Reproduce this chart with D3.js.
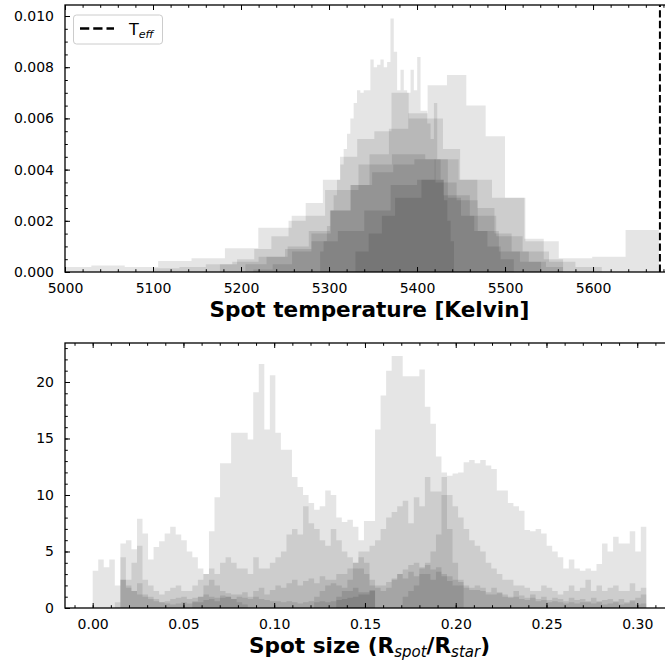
<!DOCTYPE html>
<html>
<head>
<meta charset="utf-8">
<script src="https://cdn.jsdelivr.net/npm/d3@7"></script>
<style>
  body { margin: 0; background: #fff; }
  text { font-family: "DejaVu Sans", sans-serif; }
</style>
</head>
<body>
<div id="chart"></div>
<script>
// ---- top panel: spot temperature posteriors (density, units of 1e-3) ----
var tempStart = [4992, 5214, 5290, 5176, 5205, 5330, 5100];
var tempWidth = [37.94, 22, 3.8, 19.5, 24, 15, 30];
var tempHist1 = [0.2, 0.25, 0.2, 0.43, 0.54, 0.93, 1.73, 2.2, 3.2, 4.2, 4.6, 4.4, 3.6, 2.9, 1.2, 0.54, 0.6, 1.64];
var tempHist2 = [0.1, 0.3, 0.8, 1.5, 2.4, 3.4, 4.6, 5.6, 6.2, 7.3, 7.7, 6.5, 5.3, 2.9, 1.3, 0.5];
var tempHist3 = [0.8, 1.2, 1.8, 2.4, 3.0, 3.6, 4.2, 4.8, 5.4, 6.0, 6.6, 7.1, 7.0, 7.1, 7.1, 8.3, 8.0, 8.1, 8.3, 8.0,
                 8.2, 9.9, 8.6, 7.1, 7.9, 7.1, 7.0, 7.9, 7.1, 8.4, 6.3, 6.3, 5.8, 5.2, 6.6, 4.4, 3.6, 2.8, 2.0, 1.2];
var tempHist4 = [0.3, 0.5, 0.9, 1.4, 2.0, 2.7, 3.6, 4.5, 5.2, 5.5, 7.0, 6.0, 6.0, 4.8, 3.6, 2.5, 1.5, 0.8, 0.4, 0.2];
var tempHist5 = [0.3, 0.6, 1.0, 1.6, 2.4, 3.4, 3.9, 4.2, 4.4, 3.5, 2.8, 1.6, 0.8, 0.4];
var tempHist6 = [0.8, 1.5, 2.2, 2.9, 2.9, 3.6, 4.4, 2.9, 2.2, 1.6, 1.0, 0.5];
var tempHist7 = [0.15, 0.2, 0.3, 0.4, 0.6, 0.9, 1.2, 1.6, 2.4, 3.4, 3.6, 3.0, 2.2, 1.4, 0.8, 0.4, 0.2];
var teff = 5676;
var tempTicks = [5000, 5100, 5200, 5300, 5400, 5500, 5600];
var tempDensTicks = [0, 0.002, 0.004, 0.006, 0.008, 0.010];

// ---- bottom panel: spot size posteriors (density) ----
var sizeBin = 0.00305;
var sizeStart = [0, 0.0549, 0.1342, 0.1708, 0.01525, 0.122, 0.01525, 0.0122];
var sizeHist1 = [3.3, 4.3, 3.6, 4.3, 2.0, 5.7, 6.0, 5.2, 7.9, 6.6, 4.3, 5.4, 5.9, 6.6, 7.2, 6.5, 6.0, 5.0, 4.5, 3.5,
                 3.0, 2.5, 2.0, 1.5, 1.0, 0.8, 0.5, 0.3];
var sizeHist2 = [0.5, 1.0, 2.0, 6.8, 9.8, 12.8, 12.8, 15.5, 15.5, 15.5, 14.9, 19.1, 21.6, 15.8, 20.6, 15.5, 14.0, 14.0,
                 11.6, 10.7, 10.0, 9.3, 8.7, 9.0, 10.4, 10.0, 8.0, 7.6, 7.8, 7.2, 6.0, 4.0, 2.0];
var sizeHist3 = [1.0, 1.5, 2.5, 3.5, 5.0, 7.7, 7.7, 15.8, 18.8, 21.0, 22.3, 22.3, 20.5, 20.5, 20.5, 21.1, 17.8, 16.3,
                 13.4, 10.0, 7.0, 4.0, 2.0];
var sizeHist4 = [1.0, 1.5, 2.0, 3.0, 4.0, 5.0, 6.5, 12.0, 11.7, 11.9, 12.0, 12.9, 13.1, 12.8, 13.1, 12.6, 12.3, 10.4,
                 10.4, 9.3, 9.0, 8.6, 6.9, 6.8, 7.0, 6.6, 5.5, 5.0, 4.5, 3.5, 4.3, 3.5, 3.3, 3.5, 3.3, 3.9, 5.7, 5.0,
                 6.3, 5.7, 5.7, 6.8, 5.0, 7.2];
var sizeHist5 = [4.5, 2.5, 4.0, 5.5, 2.5, 2.0, 1.5, 1.2, 1.5, 1.8, 2.0, 1.5, 1.5, 2.0, 2.5, 3.0, 3.5, 3.0, 4.0, 4.5,
                 4.0, 3.5, 3.5, 3.0, 4.5, 3.5, 3.5, 4.0, 4.5, 5.0, 6.5, 7.0, 6.5, 9.0, 7.5, 7.0, 6.0, 5.5, 7.0, 6.0,
                 5.0, 4.5, 4.0, 3.5, 3.0, 2.5];
var sizeHist6 = [1.0, 1.5, 2.0, 2.5, 3.0, 3.0, 3.5, 4.0, 4.5, 5.0, 5.5, 6.0, 7.0, 8.0, 8.5, 9.0, 9.5, 7.5, 9.8, 9.0,
                 11.6, 10.3, 10.3, 11.6, 10.0, 9.0, 8.0, 7.0, 6.0, 5.5, 5.0, 4.0, 3.5, 3.0, 2.5, 2.5, 2.0, 2.0, 1.8, 1.5,
                 1.5, 2.0, 1.8, 1.5, 1.2, 1.5, 2.0, 1.5, 1.8, 2.5, 1.5, 2.0, 1.5, 1.8, 2.0, 1.5, 1.5, 2.2, 1.5, 1.8];
var sizeHist7 = [2.5, 1.8, 1.5, 1.2, 1.0, 0.8, 0.6, 0.5, 0.6, 0.8, 0.9, 1.0, 0.8, 0.9, 1.0, 1.2, 1.0, 0.9, 1.1, 1.3,
                 1.2, 1.0, 0.9, 0.8, 1.0, 0.8, 0.7, 0.6, 0.6, 0.5, 0.6, 0.5, 0.4, 0.5, 0.6, 0.5, 0.6, 0.5, 0.6, 0.7,
                 0.8, 0.9, 1.0, 1.2, 1.4, 1.5, 1.8, 2.0, 2.3, 2.6, 3.0, 3.4, 3.8, 4.0, 3.6, 3.8, 3.4, 3.2, 3.0, 2.8,
                 2.5, 2.3, 2.0, 1.8, 1.6, 1.8, 1.4, 1.2, 1.3, 1.0, 0.9, 1.0, 0.8, 0.7, 0.9, 0.6, 0.7, 0.5, 0.6, 0.5,
                 0.4, 0.5, 0.4, 0.5, 0.6, 0.4, 0.5, 0.3, 0.4, 0.5, 0.3, 0.4, 0.6, 0.3, 0.4];
var sizeHist8 = [0.5, 2.5, 2.0, 1.5, 2.2, 1.2, 1.0, 0.8, 0.5, 0.4, 0.3, 0.4, 0.5, 0.4, 0.6, 0.5, 0.7, 0.8, 0.6, 0.9,
                 1.0, 0.8, 1.2, 1.4, 1.0, 1.5, 1.8, 1.2, 1.6, 2.0, 1.8, 2.2, 2.5, 2.0, 2.4, 2.6, 2.2, 2.8, 2.5, 2.2,
                 2.0, 1.8, 1.5, 1.8, 1.4, 1.2, 1.6, 2.0, 1.5, 1.8, 2.5, 3.0, 2.6, 3.2, 2.8, 3.5, 3.0, 2.5, 3.6, 2.8,
                 2.4, 2.0, 2.5, 1.8, 1.6, 2.0, 1.5, 1.2, 1.8, 1.4, 1.2, 1.0, 1.5, 1.1, 0.9, 1.2, 0.8, 1.0, 0.7, 0.9,
                 0.8, 0.6, 0.9, 0.7, 0.8, 0.5, 0.9, 0.6, 0.7, 0.8, 0.6, 0.8, 0.5, 0.7, 0.9, 1.2];
var sizeTicks = [0, 0.05, 0.10, 0.15, 0.20, 0.25, 0.30];
var sizeDensTicks = [0, 5, 10, 15, 20];

var width = 665, height = 664;
var left = 65, right = 674;

var svg = d3.select("#chart").append("svg")
    .attr("width", width)
    .attr("height", height);

// draws one histogram as a filled step outline
function drawHist(g, x, y, start, binWidth, values, k) {
    var pts = values.map(function(v, i) { return [start + i * binWidth, v * k]; });
    pts.push([start + values.length * binWidth, 0]);
    var area = d3.area()
        .curve(d3.curveStepAfter)
        .x(function(d) { return x(d[0]); })
        .y0(y(0))
        .y1(function(d) { return y(d[1]); });
    g.append("path")
        .attr("d", area(pts))
        .attr("fill", "#000")
        .attr("fill-opacity", 0.1);
}

// inward ticks on all four sides, labels only bottom/left
function drawFrame(x, y, top, bottom, xMajor, yMajor, xMinor, yMinor, xFmt, yFmt) {
    var ax = svg.append("g");
    ax.append("g").attr("transform", "translate(0," + bottom + ")")
        .call(d3.axisBottom(x).tickValues(xMajor).tickFormat(xFmt).tickSizeInner(-5).tickSizeOuter(0).tickPadding(11));
    ax.append("g").attr("transform", "translate(0," + bottom + ")")
        .call(d3.axisBottom(x).tickValues(xMinor).tickFormat("").tickSizeInner(-2.8).tickSizeOuter(0));
    ax.append("g").attr("transform", "translate(0," + top + ")")
        .call(d3.axisTop(x).tickValues(xMajor).tickFormat("").tickSizeInner(-5).tickSizeOuter(0));
    ax.append("g").attr("transform", "translate(0," + top + ")")
        .call(d3.axisTop(x).tickValues(xMinor).tickFormat("").tickSizeInner(-2.8).tickSizeOuter(0));
    ax.append("g").attr("transform", "translate(" + left + ",0)")
        .call(d3.axisLeft(y).tickValues(yMajor).tickFormat(yFmt).tickSizeInner(-5).tickSizeOuter(0).tickPadding(11));
    ax.append("g").attr("transform", "translate(" + left + ",0)")
        .call(d3.axisLeft(y).tickValues(yMinor).tickFormat("").tickSizeInner(-2.8).tickSizeOuter(0));
    ax.append("g").attr("transform", "translate(" + right + ",0)")
        .call(d3.axisRight(y).tickValues(yMajor).tickFormat("").tickSizeInner(-5).tickSizeOuter(0));
    ax.append("g").attr("transform", "translate(" + right + ",0)")
        .call(d3.axisRight(y).tickValues(yMinor).tickFormat("").tickSizeInner(-2.8).tickSizeOuter(0));
    ax.selectAll(".domain").remove();
    ax.selectAll(".tick line").attr("stroke", "#000").attr("stroke-width", 1);
    ax.selectAll(".tick text").attr("font-size", 14).attr("fill", "#000")
        .attr("font-family", "DejaVu Sans, sans-serif");
    ax.append("rect")
        .attr("x", left).attr("y", top)
        .attr("width", right - left).attr("height", bottom - top)
        .attr("fill", "none").attr("stroke", "#000").attr("stroke-width", 1.3);
}

// ---------------- top panel ----------------
var xT = d3.scaleLinear().domain([5000, 5692]).range([left, right]);
var yT = d3.scaleLinear().domain([0, 0.01043]).range([272, 5]);

svg.append("clipPath").attr("id", "clipT").append("rect")
    .attr("x", left).attr("y", 5).attr("width", right - left).attr("height", 267);
var gT = svg.append("g").attr("clip-path", "url(#clipT)");
[tempHist1, tempHist2, tempHist3, tempHist4, tempHist5, tempHist6, tempHist7].forEach(function(h, i) {
    drawHist(gT, xT, yT, tempStart[i], tempWidth[i], h, 0.001);
});

gT.append("line")
    .attr("x1", xT(teff)).attr("x2", xT(teff))
    .attr("y1", yT(0)).attr("y2", 5)
    .attr("stroke", "#000").attr("stroke-width", 2)
    .attr("stroke-dasharray", "7.4,3.2");

drawFrame(xT, yT, 5, 272, tempTicks, tempDensTicks,
    d3.range(5000, 5692, 20), d3.range(0, 0.0104, 0.0005),
    d3.format("d"), d3.format(".3f"));

svg.append("text")
    .attr("x", (left + right) / 2).attr("y", 317)
    .attr("text-anchor", "middle")
    .attr("font-size", 21.6).attr("font-weight", "bold")
    .text("Spot temperature [Kelvin]");

// legend
var leg = svg.append("g");
leg.append("rect")
    .attr("x", 73.5).attr("y", 15).attr("width", 89).attr("height", 29).attr("rx", 3)
    .attr("fill", "#fff").attr("fill-opacity", 0.8)
    .attr("stroke", "#ccc").attr("stroke-width", 1);
leg.append("line")
    .attr("x1", 80).attr("x2", 114).attr("y1", 28.5).attr("y2", 28.5)
    .attr("stroke", "#000").attr("stroke-width", 2.5)
    .attr("stroke-dasharray", "9.25,4");
var legText = leg.append("text").attr("x", 129).attr("y", 35).attr("font-size", 16);
legText.append("tspan").text("T");
legText.append("tspan").attr("font-size", 11).attr("font-style", "italic").attr("dy", 3).text("eff");

// ---------------- bottom panel ----------------
var xB = d3.scaleLinear().domain([-0.01525, 0.32025]).range([left, right]);
var yB = d3.scaleLinear().domain([0, 23.45]).range([608, 343]);

svg.append("clipPath").attr("id", "clipB").append("rect")
    .attr("x", left).attr("y", 343).attr("width", right - left).attr("height", 265);
var gB = svg.append("g").attr("clip-path", "url(#clipB)");
[sizeHist1, sizeHist2, sizeHist3, sizeHist4, sizeHist5, sizeHist6, sizeHist7, sizeHist8].forEach(function(h, i) {
    drawHist(gB, xB, yB, sizeStart[i], sizeBin, h, 1);
});

drawFrame(xB, yB, 343, 608, sizeTicks, sizeDensTicks,
    d3.range(-0.01, 0.325, 0.01), d3.range(0, 24, 1),
    d3.format(".2f"), d3.format("d"));

var lab = svg.append("text")
    .attr("x", (left + right) / 2).attr("y", 653)
    .attr("text-anchor", "middle")
    .attr("font-size", 21.6).attr("font-weight", "bold");
lab.append("tspan").text("Spot size (R");
lab.append("tspan").attr("font-size", 15).attr("font-style", "italic").attr("font-weight", "normal").attr("dy", 4).text("spot");
lab.append("tspan").attr("dy", -4).text("/R");
lab.append("tspan").attr("font-size", 15).attr("font-style", "italic").attr("font-weight", "normal").attr("dy", 4).text("star");
lab.append("tspan").attr("dy", -4).text(")");
</script>
</body>
</html>
